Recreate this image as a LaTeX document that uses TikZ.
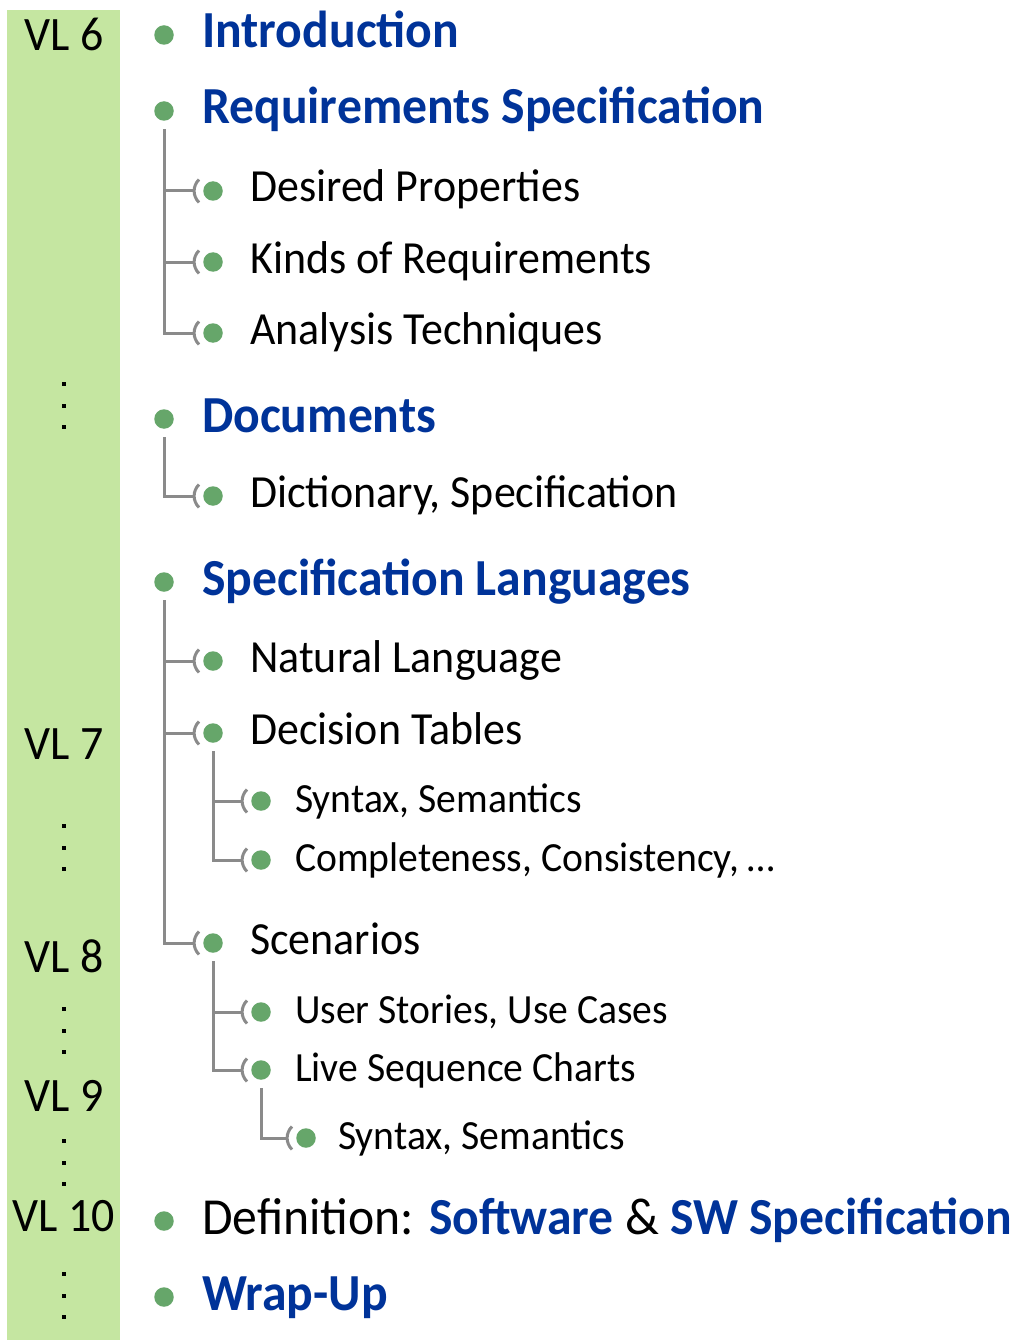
\documentclass[tikz,border=0pt]{standalone}
\usepackage{fontspec}
\setmainfont{Carlito}[FakeStretch=0.955]
\definecolor{barbg}{HTML}{C5E6A1}
\definecolor{dotgreen}{HTML}{66A66A}
\definecolor{headblue}{HTML}{003399}
\definecolor{treegray}{HTML}{8A8A8A}
\tikzset{
  bul/.style={circle, fill=dotgreen, minimum size=19.5pt, inner sep=0pt},
  lvlzero/.style={anchor=base west, inner sep=0pt, font=\fontsize{52}{60}\selectfont\bfseries, text=headblue},
  lvlzeroplain/.style={anchor=base west, inner sep=0pt, font=\fontsize{52}{60}\selectfont},
  lvlone/.style={anchor=base west, inner sep=0pt, font=\fontsize{46}{54}\selectfont},
  lvltwo/.style={anchor=base west, inner sep=0pt, font=\fontsize{41.5}{48}\selectfont},
  vllabel/.style={anchor=base, inner sep=0pt, font=\fontsize{48}{52}\selectfont},
  tree/.style={draw=treegray, line width=3pt},
  brk/.pic={\draw[tree] (5,-11.5) .. controls (-1.5,-5) and (-1.5,5) .. (5,11.5);},
}
\newcommand\hl[1]{{\bfseries\color{headblue}#1}}
\begin{document}
\begin{tikzpicture}[x=1pt, y=-1pt]
\useasboundingbox (0,0) rectangle (1015,1340);
% lecture column
\fill[barbg] (7,10) rectangle (120,1340);
\node[vllabel] (vl6)  at (64,51)   {VL 6};
\node[vllabel] (vl7)  at (64,759)  {VL 7};
\node[vllabel] (vl8)  at (64,972)  {VL 8};
\node[vllabel] (vl9)  at (64,1111) {VL 9};
\node[vllabel] (vl10) at (64,1231) {VL 10};
\foreach \y in {384,826,1009,1141,1274}
  \foreach \d in {0,21.5,43}
    \fill (62,\y+\d-2) rectangle (66,\y+\d+2);

% top-level bullets
\node[bul] (b-intro) at (164,35)   {};
\node[bul] (b-req)   at (164,111)  {};
\node[bul] (b-doc)   at (164,419)  {};
\node[bul] (b-lang)  at (164,582)  {};
\node[bul] (b-def)   at (164,1221) {};
\node[bul] (b-wrap)  at (164,1297) {};
\node[lvlzero] (t-intro) at (202,48)   {Introduction};
\node[lvlzero] (t-req)   at (202,124)  {Requirements Specification};
\node[lvlzero] (t-doc)   at (202,432)  {Documents};
\node[lvlzero] (t-lang)  at (202,595)  {Specification Languages};
\node[lvlzeroplain] (t-def) at (202,1234) {Definition: \hl{Software} \& \hl{SW Specification}};
\node[lvlzero] (t-wrap)  at (202,1310) {Wrap-Up};

% second level
\foreach \n/\y/\txt in {des/191/Desired Properties, kind/262/Kinds of Requirements,
    ana/333/Analysis Techniques, dict/496/{Dictionary, Specification},
    nat/661/Natural Language, dec/733/Decision Tables, scen/943/Scenarios}{
  \node[bul] (b-\n) at (213,\y) {};
  \coordinate (k-\n) at (194,\y);
  \pic at (k-\n) {brk};
  \node[lvlone] (t-\n) at (250,\y+11) {\txt};
}

% third level
\foreach \n/\y/\txt in {dsyn/801/{Syntax, Semantics}, dcomp/860/{Completeness, Consistency, \dots},
    user/1012/{User Stories, Use Cases}, lsc/1070/Live Sequence Charts}{
  \node[bul] (b-\n) at (261,\y) {};
  \coordinate (k-\n) at (242,\y);
  \pic at (k-\n) {brk};
  \node[lvltwo] (t-\n) at (295,\y+11) {\txt};
}

% fourth level
\node[bul] (b-lsyn) at (306,1138) {};
\coordinate (k-lsyn) at (287,1138);
\pic at (k-lsyn) {brk};
\node[lvltwo] (t-lsyn) at (338,1149) {Syntax, Semantics};

% tree connectors
\foreach \p/\c in {req/des, req/kind, req/ana, doc/dict, lang/nat, lang/dec, lang/scen,
    dec/dsyn, dec/dcomp, scen/user, scen/lsc, lsc/lsyn}
  \draw[tree] ([yshift=-8.5pt]b-\p.south) |- (k-\c);
\end{tikzpicture}
\end{document}
